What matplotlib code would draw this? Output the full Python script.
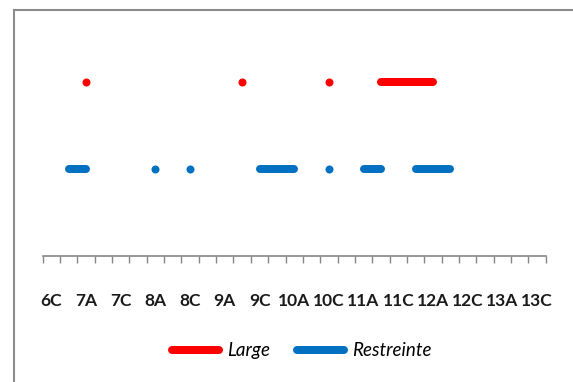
import numpy as np
import matplotlib.pyplot as plt
from matplotlib.patches import Rectangle

# Category axis: classes from 6C to 13C (labels shown every other class)
categories = ["6C", "6D",
              "7A", "7B", "7C", "7D",
              "8A", "8B", "8C", "8D",
              "9A", "9B", "9C", "9D",
              "10A", "10B", "10C", "10D",
              "11A", "11B", "11C", "11D",
              "12A", "12B", "12C", "12D",
              "13A", "13B", "13C"]
tick_labels = categories[::2]

# Classes covered by each series
large_classes = ["7A", "9B", "10C", "11B", "11C", "11D", "12A"]
restreinte_classes = ["6D", "7A", "8A", "8C", "9C", "9D", "10A", "10C",
                      "11A", "11B", "11D", "12A", "12B"]
large_level = 2
restreinte_level = 1

RED = "#FF0000"
BLUE = "#0070C0"
GREY = "#868686"


def series(classes, level):
    y = np.full(len(categories), np.nan)
    for c in classes:
        y[categories.index(c)] = level
    return y


def isolated(y):
    """Indices of points with no neighbour, drawn as round dots."""
    ok = ~np.isnan(y)
    prev = np.r_[False, ok[:-1]]
    nxt = np.r_[ok[1:], False]
    return list(np.where(ok & ~prev & ~nxt)[0])


x = np.arange(len(categories))
y_large = series(large_classes, large_level)
y_restr = series(restreinte_classes, restreinte_level)

W, H = 573, 382
fig = plt.figure(figsize=(W / 100, H / 100), dpi=100)
fig.patch.set_facecolor("white")

# Chart frame
fig.patches.append(Rectangle((13.5 / W, -0.1), 1.2, (H - 9.5) / H + 0.1,
                             transform=fig.transFigure, fill=False,
                             edgecolor="#8C8C8C", linewidth=1.5))

left, right = 42.7 / W, 545.7 / W
bottom = (H - 255.7) / H
height = 216.7 / H
ax = fig.add_axes([left, bottom, right - left, height])

lw = 8 * 72 / 100
ms = 8 * 72 / 100
l1, = ax.plot(x, y_large, color=RED, lw=lw, solid_capstyle="round",
              marker="o", ms=ms, mew=0, markevery=isolated(y_large),
              label="Large")
l2, = ax.plot(x, y_restr, color=BLUE, lw=lw, solid_capstyle="round",
              marker="o", ms=ms, mew=0, markevery=isolated(y_restr),
              label="Restreinte")

ax.set_xlim(-0.5, len(categories) - 0.5)
ax.set_ylim(0, 2.5)

for s in ["top", "right", "left"]:
    ax.spines[s].set_visible(False)
ax.spines["bottom"].set_color(GREY)
ax.spines["bottom"].set_linewidth(1.2)
ax.set_yticks([])

ax.set_xticks(x[::2])
ax.set_xticklabels(tick_labels, fontfamily="Lato", fontweight="bold",
                   fontsize=12.5, color="#1a1a1a")
ax.tick_params(axis="x", which="major", length=0, pad=27)
ax.set_xticks(np.arange(-0.5, len(categories), 1.0), minor=True)
ax.tick_params(axis="x", which="minor", length=5, width=1, color=GREY,
               direction="out")

leg = fig.legend(handles=[l1, l2], loc="center", ncol=2,
                 bbox_to_anchor=((160 + 438) / 2 / W, (H - 350.7) / H),
                 frameon=False, handlelength=3.1, handletextpad=0.15,
                 columnspacing=1.15, numpoints=2,
                 prop={"family": "Lato", "style": "italic", "size": 13.5})
for h in leg.legend_handles:
    h.set_marker("")

fig.savefig("out.png", dpi=100, facecolor="white")
